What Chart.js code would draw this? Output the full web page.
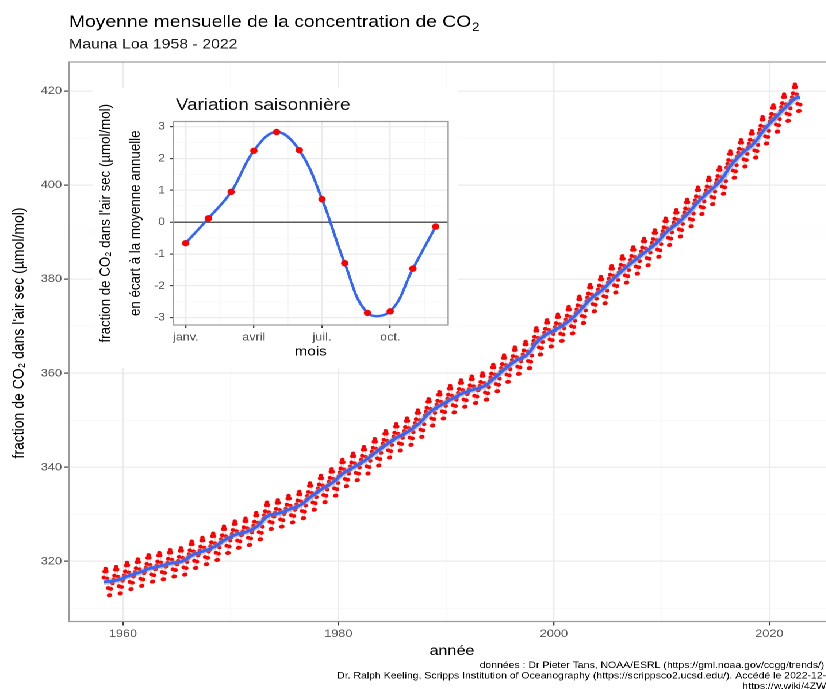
<!DOCTYPE html>
<html lang="fr">
<head>
<meta charset="utf-8">
<title>Moyenne mensuelle de la concentration de CO2</title>
<script src="https://cdn.jsdelivr.net/npm/chart.js@4.4.1/dist/chart.umd.min.js"></script>
<style>
  html, body { margin: 0; padding: 0; background: #fff; overflow: hidden; }
  #stage { position: relative; width: 826px; height: 689px; overflow: hidden; }
  /* la figure d'origine est étirée horizontalement */
  #stretch { position: absolute; left: 0; top: 0; width: 740px; height: 689px; transform: scaleX(1.15); transform-origin: 0 0; }
  #main { position: absolute; left: 0; top: 0; }
  #inset { position: absolute; left: 80.9px; top: 88px; }
</style>
</head>
<body>
<div id="stage"><div id="stretch">
  <canvas id="main" width="740" height="689"></canvas>
  <canvas id="inset" width="317" height="280"></canvas>
</div></div>
<script>
// Années et moyennes annuelles (ppm)
const years = [
  1958, 1959, 1960, 1961, 1962, 1963, 1964, 1965, 1966, 1967,
  1968, 1969, 1970, 1971, 1972, 1973, 1974, 1975, 1976, 1977,
  1978, 1979, 1980, 1981, 1982, 1983, 1984, 1985, 1986, 1987,
  1988, 1989, 1990, 1991, 1992, 1993, 1994, 1995, 1996, 1997,
  1998, 1999, 2000, 2001, 2002, 2003, 2004, 2005, 2006, 2007,
  2008, 2009, 2010, 2011, 2012, 2013, 2014, 2015, 2016, 2017,
  2018, 2019, 2020, 2021, 2022
];
const annualMean = [
  315.6, 316.0, 316.9, 317.6, 318.5, 319.0, 319.6, 320.0, 321.4, 322.2,
  323.1, 324.6, 325.7, 326.3, 327.5, 329.7, 330.2, 331.1, 332.0, 333.8,
  335.4, 336.8, 338.8, 340.1, 341.5, 343.2, 344.9, 346.4, 347.6, 349.3,
  351.7, 353.2, 354.5, 355.7, 356.5, 357.2, 359.0, 361.0, 362.7, 363.9,
  366.8, 368.5, 369.7, 371.3, 373.5, 376.0, 377.7, 380.0, 382.1, 384.0,
  385.8, 387.6, 390.1, 391.9, 394.1, 396.7, 398.8, 401.0, 404.4, 406.8,
  408.7, 411.7, 414.2, 416.5, 418.6
];

const months = [1, 2, 3, 4, 5, 6, 7, 8, 9, 10, 11, 12];
const seasonalCycle = [-0.66, 0.12, 0.95, 2.24, 2.83, 2.26, 0.72, -1.29, -2.85, -2.80, -1.46, -0.14];

// Extrémités de la courbe lissée
const trendStart = [1958.2, 315.6];
const trendEnd = [2022.85, 418.6];

// Graduations
const yearTicks = [1960, 1970, 1980, 1990, 2000, 2010, 2020];
const ppmTicks = [310, 320, 330, 340, 350, 360, 370, 380, 390, 400, 410, 420];
const monthTickValues = [1, 2.5, 4, 5.5, 7, 8.5, 10, 11.5];
const monthTickLabels = { 1: 'janv.', 4: 'avril', 7: 'juil.', 10: 'oct.' };
const devTicks = [-3, -2.5, -2, -1.5, -1, -0.5, 0, 0.5, 1, 1.5, 2, 2.5, 3];

const caption = [
  'données : Dr Pieter Tans, NOAA/ESRL (https://gml.noaa.gov/ccgg/trends/)',
  'Dr. Ralph Keeling, Scripps Institution of Oceanography (https://scrippsco2.ucsd.edu/). Accédé le 2022-12-',
  'https://w.wiki/4ZW'
];

const FONT = '"Liberation Sans", Arial, sans-serif';
Chart.defaults.font.family = FONT;

// Points mensuels : mars 1958 -> novembre 2022
const monthlyPoints = [];
years.forEach((yr, i) => {
  seasonalCycle.forEach((dev, m) => {
    if (yr === 1958 && m < 2) return;
    if (yr === 2022 && m > 10) return;
    monthlyPoints.push({ x: yr + (m + 0.5) / 12, y: annualMean[i] + dev });
  });
});

const trendPoints = [{ x: trendStart[0], y: trendStart[1] }]
  .concat(years.slice(1).map((yr, i) => ({ x: yr + 0.5, y: annualMean[i + 1] })))
  .concat([{ x: trendEnd[0], y: trendEnd[1] }]);

const seasonalPoints = months.map((m, i) => ({ x: m, y: seasonalCycle[i] }));

const GRID_MAJOR = '#ebebeb';
const GRID_MINOR = '#f4f4f4';
const TICK_COL = '#555555';

// 🧱 fond blanc + cadre du panneau
const panelPlugin = {
  id: 'panel',
  beforeDraw(chart) {
    const ctx = chart.ctx;
    ctx.save();
    ctx.fillStyle = '#fff';
    ctx.fillRect(0, 0, chart.width, chart.height);
    ctx.restore();
  },
  afterDraw(chart) {
    const { ctx, chartArea: a } = chart;
    ctx.save();
    ctx.strokeStyle = '#9a9a9a';
    ctx.lineWidth = 1.2;
    ctx.strokeRect(a.left, a.top, a.right - a.left, a.bottom - a.top);
    ctx.restore();
  }
};

// 📝 titres, titre de l'axe y et source du graphique principal
const mainText = {
  id: 'mainText',
  afterDraw(chart) {
    const ctx = chart.ctx;
    ctx.save();
    ctx.fillStyle = '#000';
    ctx.textAlign = 'left';
    ctx.textBaseline = 'alphabetic';
    ctx.font = '16.8px ' + FONT;
    const t = 'Moyenne mensuelle de la concentration de CO';
    ctx.fillText(t, 60, 27);
    const w = ctx.measureText(t).width;
    ctx.font = '12px ' + FONT;
    ctx.fillText('2', 60 + w + 0.5, 31);
    ctx.fillStyle = '#1a1a1a';
    ctx.font = '13.8px ' + FONT;
    ctx.fillText('Mauna Loa 1958 - 2022', 60, 48.5);

    // titre de l'axe y
    ctx.save();
    ctx.fillStyle = '#000';
    ctx.font = '14px ' + FONT;
    ctx.translate(16.5, 333);
    ctx.rotate(-Math.PI / 2);
    ctx.textAlign = 'center';
    ctx.textBaseline = 'middle';
    ctx.fillText('fraction de CO₂ dans l\'air sec (µmol/mol)', 0, 0);
    ctx.restore();

    ctx.fillStyle = '#000';
    ctx.font = '9.1px ' + FONT;
    ctx.textAlign = 'right';
    ctx.fillText(caption[0], 716.8, 668);
    ctx.fillText(caption[1], 718.3, 678.5);
    ctx.fillText(caption[2], 718.3, 689);
    ctx.restore();
  }
};

const insetText = {
  id: 'insetText',
  afterDraw(chart) {
    const ctx = chart.ctx;
    ctx.save();
    ctx.fillStyle = '#111';
    ctx.textAlign = 'left';
    ctx.textBaseline = 'alphabetic';
    ctx.font = '16.4px ' + FONT;
    ctx.fillText('Variation saisonnière', 71.9, 22);
    ctx.restore();
  }
};

function gridFor(isMajor, extra) {
  return {
    color: c => (extra && extra(c)) || (isMajor(c) ? GRID_MAJOR : GRID_MINOR),
    lineWidth: c => (extra && extra(c)) ? 1.5 : (isMajor(c) ? 1.2 : 0.6),
    tickColor: c => isMajor(c) ? '#333' : 'rgba(0,0,0,0)',
    tickWidth: 1.1
  };
}

new Chart(document.getElementById('main'), {
  type: 'line',
  data: {
    datasets: [
      { label: 'tendance', data: trendPoints, borderColor: '#3366ff', borderWidth: 2.8,
        pointRadius: 0, tension: 0.4, order: 0 },
      { label: 'intervalle', data: trendPoints, borderColor: 'rgba(150,150,150,0.45)', borderWidth: 6,
        pointRadius: 0, tension: 0.4, order: 1 },
      { label: 'mensuel', data: monthlyPoints, borderColor: 'rgba(255,0,0,0.22)', borderWidth: 0.8,
        pointRadius: 1.9, pointBackgroundColor: '#ff0000', pointBorderWidth: 0, tension: 0, order: 2 }
    ]
  },
  options: {
    responsive: false,
    animation: false,
    events: [],
    devicePixelRatio: 2,
    layout: { padding: { left: 0, right: 13.9, top: 62, bottom: 0 } },
    plugins: { legend: { display: false }, tooltip: { enabled: false } },
    scales: {
      x: {
        type: 'linear', min: 1954.99, max: 2026.1,
        afterBuildTicks: s => { s.ticks = yearTicks.map(v => ({ value: v })); },
        afterFit: s => { s.height = 67.5; },
        border: { display: false },
        grid: Object.assign(gridFor(c => c.tick && c.tick.value % 20 === 0), { tickLength: 4 }),
        ticks: { autoSkip: false, maxRotation: 0, padding: 2, color: TICK_COL, font: { size: 11 },
          callback: v => (v % 20 === 0 ? String(v) : '') },
        title: { display: true, text: 'année', color: '#000', font: { size: 14.1 },
          padding: { top: 0, bottom: 29.6 } }
      },
      y: {
        type: 'linear', min: 307.2, max: 426.2,
        afterBuildTicks: s => { s.ticks = ppmTicks.map(v => ({ value: v })); },
        afterFit: s => { s.width = 60; },
        border: { display: false },
        grid: Object.assign(gridFor(c => c.tick && c.tick.value % 20 === 0), { tickLength: 4 }),
        ticks: { autoSkip: false, padding: 2.1, color: TICK_COL, font: { size: 11 },
          callback: v => (v % 20 === 0 ? String(v) : '') },
        title: { display: false }
      }
    }
  },
  plugins: [panelPlugin, mainText]
});

new Chart(document.getElementById('inset'), {
  type: 'line',
  data: {
    datasets: [
      { label: 'écart', data: seasonalPoints, borderColor: '#3366ff', borderWidth: 2.4, tension: 0.4,
        pointRadius: 3.2, pointBackgroundColor: '#ff0000', pointBorderWidth: 0 }
    ]
  },
  options: {
    responsive: false,
    animation: false,
    events: [],
    devicePixelRatio: 2,
    layout: { padding: { left: 0, right: 8.3, top: 33.5, bottom: 0 } },
    plugins: { legend: { display: false }, tooltip: { enabled: false } },
    scales: {
      x: {
        type: 'linear', min: 0.45, max: 12.55,
        afterBuildTicks: s => { s.ticks = monthTickValues.map(v => ({ value: v })); },
        afterFit: s => { s.height = 43; },
        border: { display: false },
        grid: Object.assign(gridFor(c => c.tick && monthTickLabels[c.tick.value] !== undefined), { tickLength: 3 }),
        ticks: { autoSkip: false, maxRotation: 0, padding: 3, color: TICK_COL, font: { size: 11 },
          callback: v => monthTickLabels[v] || '' },
        title: { display: true, text: 'mois', color: '#000', font: { size: 13.3 },
          padding: { top: 0, bottom: 8.3 } }
      },
      y: {
        type: 'linear', min: -3.23, max: 3.16,
        afterBuildTicks: s => { s.ticks = devTicks.map(v => ({ value: v })); },
        afterFit: s => { s.width = 69.6; },
        border: { display: false },
        grid: Object.assign(gridFor(c => c.tick && Number.isInteger(c.tick.value),
          c => (c.tick && c.tick.value === 0 ? '#5a5a5a' : null)), { tickLength: 2.6 }),
        ticks: { autoSkip: false, padding: 4.4, color: TICK_COL, font: { size: 11 },
          callback: v => (Number.isInteger(v) ? String(v) : '') },
        title: { display: true,
          text: ['fraction de CO₂ dans l\'air sec (µmol/mol)', 'en écart à la moyenne annuelle'],
          color: '#000', font: { size: 13.3, lineHeight: 1.955 }, padding: { top: -2, bottom: 0 } }
      }
    }
  },
  plugins: [panelPlugin, insetText]
});
</script>
</body>
</html>
